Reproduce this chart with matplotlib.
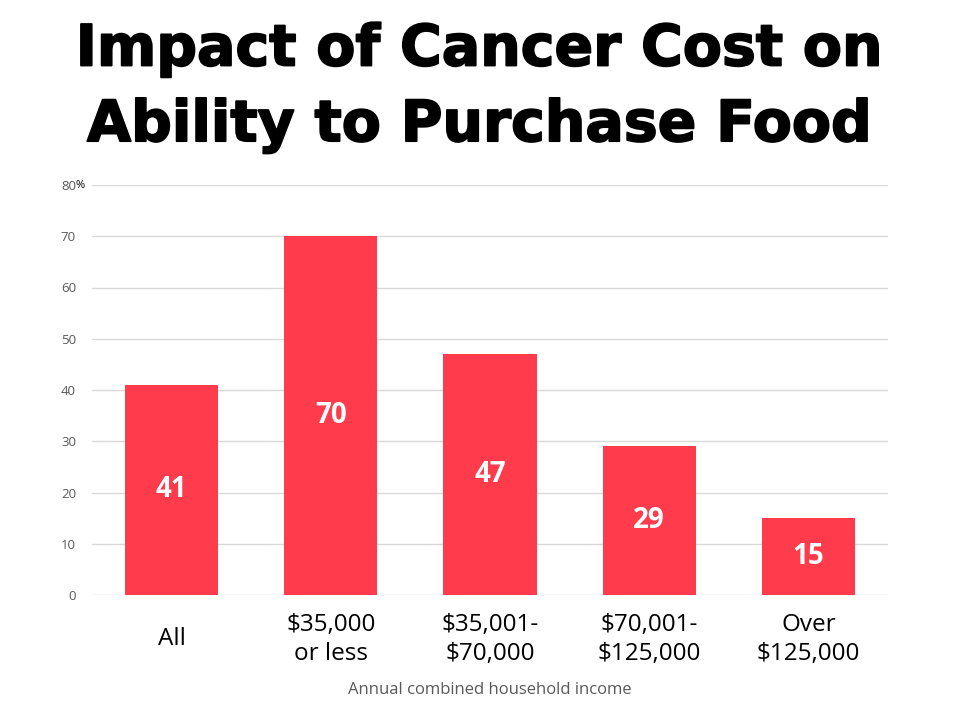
import matplotlib.pyplot as plt
import matplotlib.patheffects as pe

categories = ["All", "$35,000\nor less", "$35,001-\n$70,000", "$70,001-\n$125,000", "Over\n$125,000"]
values = [41, 70, 47, 29, 15]
yticks = [0, 10, 20, 30, 40, 50, 60, 70, 80]
ytick_labels = ["0", "10", "20", "30", "40", "50", "60", "70", "80"]

fig = plt.figure(figsize=(9.6, 7.2), dpi=100)
ax = fig.add_axes([92 / 960, 1 - 595 / 720, 796 / 960, 410 / 720])

x = range(len(categories))
bars = ax.bar(x, values, width=0.585, color="#FF3B4C", zorder=3)

# labels in the middle of each bar
for b, v in zip(bars, values):
    ax.text(b.get_x() + b.get_width() / 2, v / 2, str(v), ha="center", va="center",
            color="white", fontsize=20, fontweight="bold", family="Open Sans")

ax.set_xlim(-0.5, len(categories) - 0.5)
ax.set_ylim(0, 80)
ax.set_yticks(yticks)
ax.set_yticklabels(ytick_labels, fontsize=9.5, color="#595959", family="Open Sans")
ax.text(-0.021, 80, "%", transform=ax.get_yaxis_transform(), ha="left", va="center",
        fontsize=8, color="black", family="Open Sans")
ax.set_xticks(list(x))
ax.set_xticklabels(categories, fontsize=17.5, family="Open Sans", linespacing=1.25, va="center")
ax.tick_params(axis="x", length=0, pad=32)
ax.tick_params(axis="y", length=0, pad=11.5)
ax.grid(axis="y", color="#D9D9D9", linewidth=1, zorder=0)
for s in ax.spines.values():
    s.set_visible(False)

ax.set_xlabel("Annual combined household income", fontsize=12, color="#595959",
              family="Open Sans", labelpad=12)

# title, stroked a bit to look heavier
fig.text(0.5, 0.878, "Impact of Cancer Cost on\nAbility to Purchase Food", ha="center", va="center",
         fontsize=41, fontweight="bold", family="DejaVu Sans", linespacing=1.48,
         path_effects=[pe.withStroke(linewidth=1.3, foreground="black")])

fig.savefig("out.png", dpi=100)
